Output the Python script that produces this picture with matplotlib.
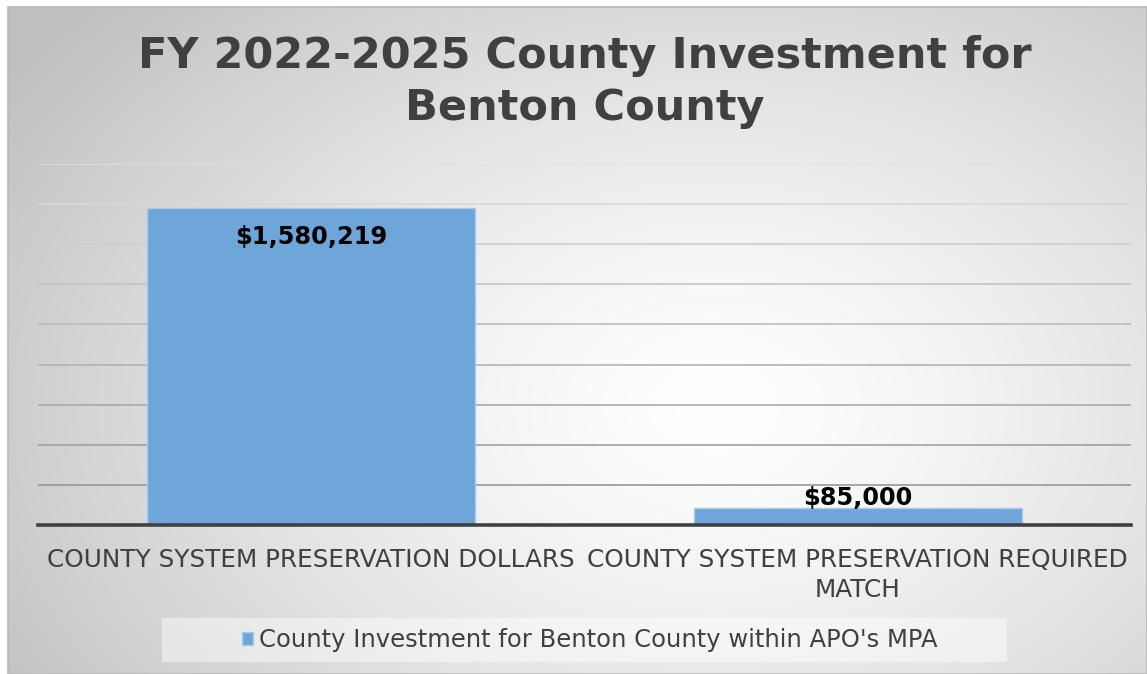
import numpy as np
import matplotlib
matplotlib.use("Agg")
import matplotlib.pyplot as plt
from matplotlib.patches import Rectangle

plt.rcParams['font.family'] = ['DejaVu Sans']

categories = ["COUNTY SYSTEM PRESERVATION DOLLARS",
              "COUNTY SYSTEM PRESERVATION REQUIRED\nMATCH"]
values = [1580219, 85000]
value_labels = ["$1,580,219", "$85,000"]
series_name = "County Investment for Benton County within APO's MPA"
title = "FY 2022-2025 County Investment for\nBenton County"
y_max = 1800000
y_step = 200000

W, H = 1147, 674
fig = plt.figure(figsize=(W / 100, H / 100), dpi=100)
fig.patch.set_facecolor("white")

# background radial gradient panel
bx0, by0 = 8, 7
bg = fig.add_axes([bx0 / W, 0, 1 - bx0 / W, 1 - by0 / H], zorder=-5)
ny, nx = 300, 500
xs = np.linspace(0, 1, nx)
ys = np.linspace(0, 1, ny)
X, Y = np.meshgrid(xs, ys)
cx, cy = 0.62, 0.6
d = np.sqrt(((X - cx) / 0.75) ** 2 + ((Y - cy) / 0.9) ** 2)
d = np.clip(d, 0, 1)
val = 1.0 - (1.0 - 0.75) * d ** 1.35
img = np.dstack([val, val, val])
bg.imshow(img, extent=[0, 1, 0, 1], origin="upper", aspect="auto", interpolation="bilinear")
bg.set_xlim(0, 1)
bg.set_ylim(0, 1)
bg.axis("off")
bg.add_patch(Rectangle((0, 0), 1, 1, transform=bg.transAxes, fill=False,
                       edgecolor="#b8b8b8", linewidth=1.2, clip_on=False))

# main axes
left, right, top, bottom = 38, 1131, 164, 525
ax = fig.add_axes([left / W, (H - bottom) / H, (right - left) / W, (bottom - top) / H])
ax.set_facecolor("none")
x = np.arange(len(categories))
bars = ax.bar(x, values, width=0.6, color="#6FA6DA", edgecolor="#A9CBEC",
              linewidth=1.0, zorder=2, label=series_name)
ax.set_xlim(-0.5, len(categories) - 0.5)
ax.set_ylim(0, y_max)
ticks = np.arange(0, y_max + 1, y_step)
ax.set_yticks(ticks)
ax.tick_params(axis="y", left=False, labelleft=False)
ax.tick_params(axis="x", bottom=False, pad=13)
ax.set_xticks(x)
ax.set_xticklabels(categories, fontsize=17.8, color="#404040",
                   linespacing=1.32)
ax.grid(axis="y", zorder=3, linewidth=1.3)
gl = ax.get_ygridlines()
for i, line in enumerate(gl):
    t = i / (len(gl) - 1)
    g = 0.55 + (0.88 - 0.55) * t
    line.set_color((g, g, g))
    line.set_alpha(0.9)
    line.set_zorder(3)
for s in ["top", "right", "left"]:
    ax.spines[s].set_visible(False)
ax.spines["bottom"].set_color("#404040")
ax.spines["bottom"].set_linewidth(2.6)
ax.spines["bottom"].set_zorder(4)

# data labels
ax.annotate(value_labels[0], (x[0], values[0]), xytext=(0, -21), textcoords="offset points",
            ha="center", va="center", fontsize=17.3, fontweight="bold", color="black", zorder=5)
ax.annotate(value_labels[1], (x[1], values[1]), xytext=(0, 7.5), textcoords="offset points",
            ha="center", va="center", fontsize=17.3, fontweight="bold", color="black", zorder=5)

# title
fig.text(585 / W, 1 - 82 / H, title, ha="center", va="center", fontsize=31,
         fontweight="bold", color="#404040", linespacing=1.28)

# legend box
lx0, lx1, ly0, ly1 = 162, 1007, 618, 662
fig.patches.append(Rectangle((lx0 / W, 1 - ly1 / H), (lx1 - lx0) / W, (ly1 - ly0) / H,
                             transform=fig.transFigure, facecolor="white", alpha=0.45,
                             edgecolor="none", zorder=1))
leg = fig.legend(handles=[bars], labels=[series_name], loc="center",
                 bbox_to_anchor=(590 / W, 1 - 640 / H), frameon=False, fontsize=17.5,
                 handlelength=0.45, handleheight=0.45, handletextpad=0.25)
for t in leg.get_texts():
    t.set_color("#404040")

fig.savefig("out.png", dpi=100, facecolor="white")
